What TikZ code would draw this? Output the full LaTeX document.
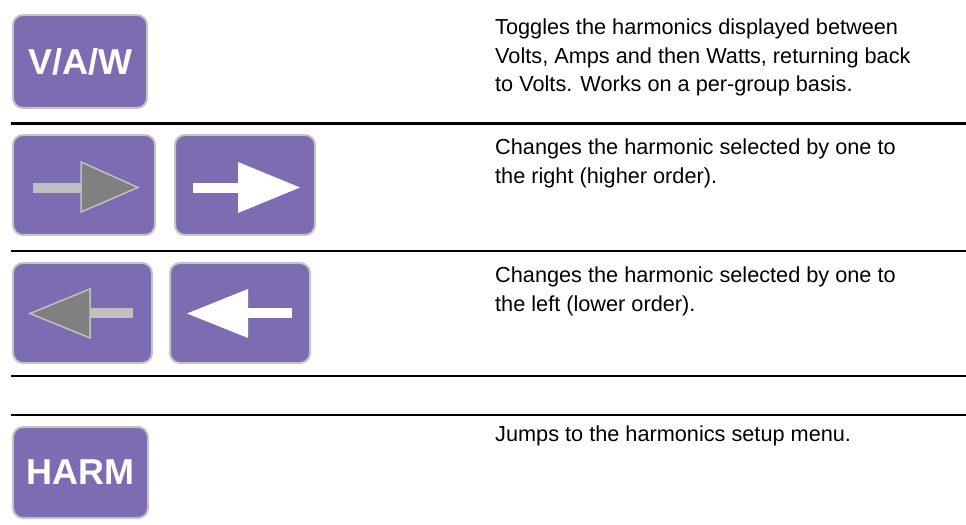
\documentclass[tikz,border=0pt]{standalone}
\usepackage{fontspec}
\setmainfont{Liberation Sans}
\definecolor{btnpurple}{HTML}{7E6CB2}
\definecolor{btnborder}{HTML}{C4C4C4}
\definecolor{darkarrow}{HTML}{808080}
\definecolor{lightarrow}{HTML}{C0C0C0}
\tikzset{
  btn/.style={fill=btnpurple, draw=btnborder, line width=2bp, rounded corners=10bp, inner sep=0pt},
  btnlabel/.style={text=white, font=\bfseries\fontsize{36bp}{36bp}\selectfont},
  desc/.style={anchor=base west, align=left, inner sep=0pt, font=\fontsize{21.7bp}{28.5bp}\selectfont},
  rule/.style={line width=2.8bp, black},
  whitearrow/.style={fill=white, draw=none},
  grayshaft/.style={fill=lightarrow, draw=none},
  graytip/.style={fill=darkarrow, draw=lightarrow, line width=1.5bp, line join=miter},
}
\begin{document}
\begin{tikzpicture}[x=1bp,y=-1bp]
\useasboundingbox (0,0) rectangle (966,525);
% rules
\coordinate (r1a) at (11,123.5); \coordinate (r1b) at (966,123.5);
\coordinate (r2a) at (11,251);   \coordinate (r2b) at (966,251);
\coordinate (r3a) at (11,376);   \coordinate (r3b) at (966,376);
\coordinate (r4a) at (11,415);   \coordinate (r4b) at (966,415);
\draw[rule] (r1a) -- (r1b);
\draw[rule] (r2a) -- (r2b);
\draw[rule] (r3a) -- (r3b);
\draw[rule] (r4a) -- (r4b);
% V/A/W button
\node[btn, minimum width=134bp, minimum height=93bp] (vaw) at (80,61.5) {};
\node[btnlabel] (vawt) at (vaw.center) {V/A/W};
% right arrow buttons
\node[btn, minimum width=142bp, minimum height=100bp] (rgray) at (84,185) {};
\fill[grayshaft] (33,183) rectangle (81,193);
\filldraw[graytip] (81,162) -- (138,187.5) -- (81,212) -- cycle;
\node[btn, minimum width=140bp, minimum height=100bp] (rwhite) at (245,185) {};
\fill[whitearrow] (193,183) rectangle (239,193);
\fill[whitearrow] (238,162) -- (300,187.5) -- (238,213) -- cycle;
% left arrow buttons
\node[btn, minimum width=139bp, minimum height=100bp] (lgray) at (82.5,313) {};
\fill[grayshaft] (89,308) rectangle (133,318);
\filldraw[graytip] (90,289) -- (30,313.5) -- (90,338) -- cycle;
\node[btn, minimum width=140bp, minimum height=100bp] (lwhite) at (240,313) {};
\fill[whitearrow] (247,308) rectangle (292,318);
\fill[whitearrow] (248,289) -- (187,313.5) -- (248,338) -- cycle;
% HARM button
\node[btn, minimum width=135bp, minimum height=91bp] (harm) at (80.5,472.5) {};
\node[btnlabel] (harmt) at (harm.center) {HARM};
% descriptions (base anchor = baseline of the last line)
\node[desc] (d1) at (495,92) {Toggles the harmonics displayed between\\Volts, Amps and then Watts, returning back\\to Volts. Works on a per-group basis.};
\node[desc] (d2) at (495,183.5) {Changes the harmonic selected by one to\\the right (higher order).};
\node[desc] (d3) at (495,311.5) {Changes the harmonic selected by one to\\the left (lower order).};
\node[desc] (d4) at (495,441) {Jumps to the harmonics setup menu.};
\end{tikzpicture}
\end{document}
